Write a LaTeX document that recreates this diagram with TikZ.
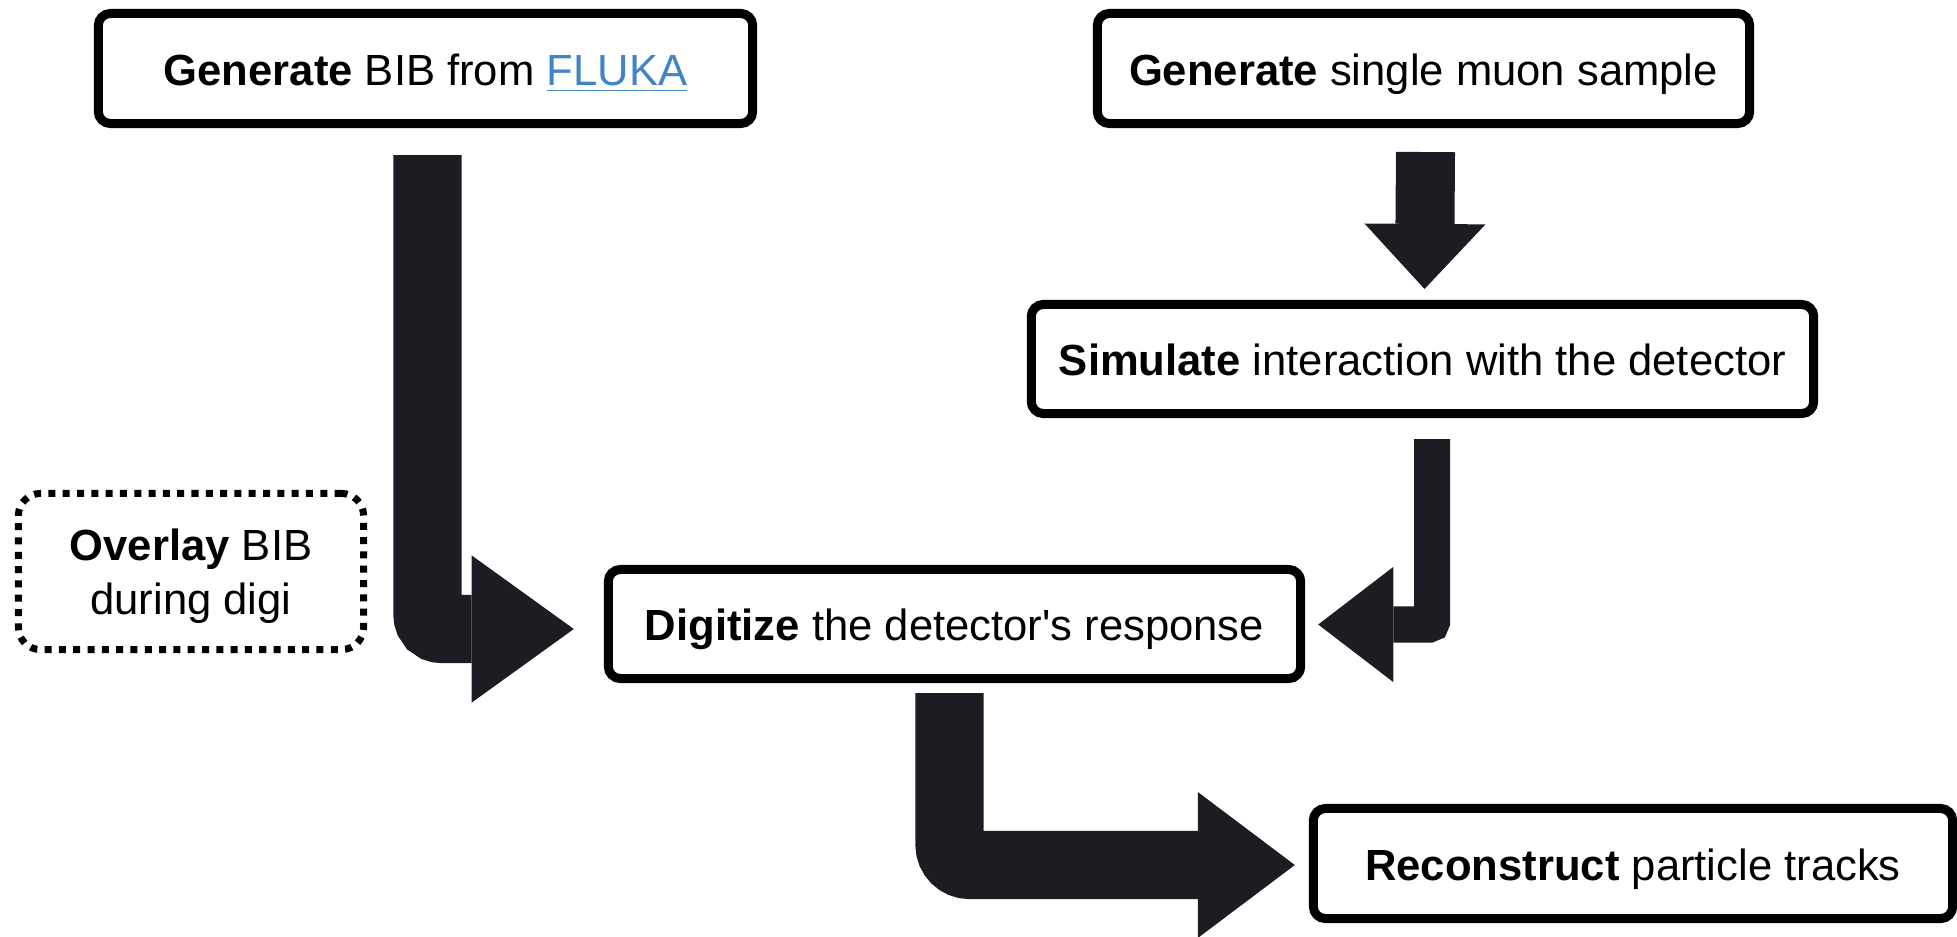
\documentclass[tikz,border=0pt]{standalone}
\usepackage{fontspec}
\setmainfont{Liberation Sans}
\usetikzlibrary{arrows.meta,calc}
\definecolor{linkblue}{RGB}{66,133,199}
\definecolor{arrowink}{RGB}{30,28,34}
\begin{document}
\begin{tikzpicture}[x=0.01cm,y=-0.01cm,
  boxbase/.style={draw=black, line width=0.09cm, rounded corners=0.12cm,
    fill=white, inner sep=0pt, align=center,
    font=\fontsize{12.4pt}{15.4pt}\selectfont},
  stepbox/.style={boxbase, text height=0.33cm, text depth=0pt},
  optbox/.style={boxbase, line width=0.07cm, rounded corners=0.22cm,
    dash pattern=on 0.07cm off 0.073cm, text depth=-0.06cm},
  flow/.style n args={4}{draw=arrowink, line width=#1, rounded corners=#2,
    -{Triangle[width=#3,length=#4,line width=0pt]}}]

\useasboundingbox (0,0) rectangle (1957,936);

% process steps
\node[stepbox, minimum width=6.54cm, minimum height=1.10cm] (A) at (425.5,68.5)
  {\textbf{Generate} BIB from {\color{linkblue}\underline{FLUKA}}};
\node[stepbox, minimum width=6.52cm, minimum height=1.10cm] (B) at (1423.5,68.5)
  {\textbf{Generate} single muon sample};
\node[stepbox, minimum width=7.82cm, minimum height=1.09cm] (C) at (1422.5,359)
  {\textbf{Simulate} interaction with the detector};
\node[stepbox, minimum width=6.92cm, minimum height=1.09cm] (D) at (954.5,624)
  {\textbf{Digitize} the detector\textquotesingle s response};
\node[stepbox, minimum width=6.39cm, minimum height=1.10cm] (E) at (1633,863.5)
  {\textbf{Reconstruct} particle tracks};
\node[optbox, minimum width=3.45cm, minimum height=1.56cm] (F) at (191,571.5)
  {\textbf{Overlay} BIB\\during digi};

% block arrows between the steps
\draw[flow={0.68cm}{0.14cm}{1.47cm}{1.02cm}]
  ($(A.south)+(2,27)$) |- ($(D.west)+(-30,5)$);
\draw[flow={0.59cm}{0cm}{1.21cm}{0.65cm}]
  ($(B.south)+(2,24)$) -- ($(C.north)+(2,-11)$);
\draw[flow={0.36cm}{0.03cm}{1.15cm}{0.75cm}]
  ($(C.south)+(9.5,21)$) |- ($(D.east)+(13,0.5)$);
\draw[flow={0.68cm}{0.20cm}{1.46cm}{0.97cm}]
  ($(D.south)+(-5,10)$) |- ($(E.west)+(-14,1.5)$);
\end{tikzpicture}
\end{document}
